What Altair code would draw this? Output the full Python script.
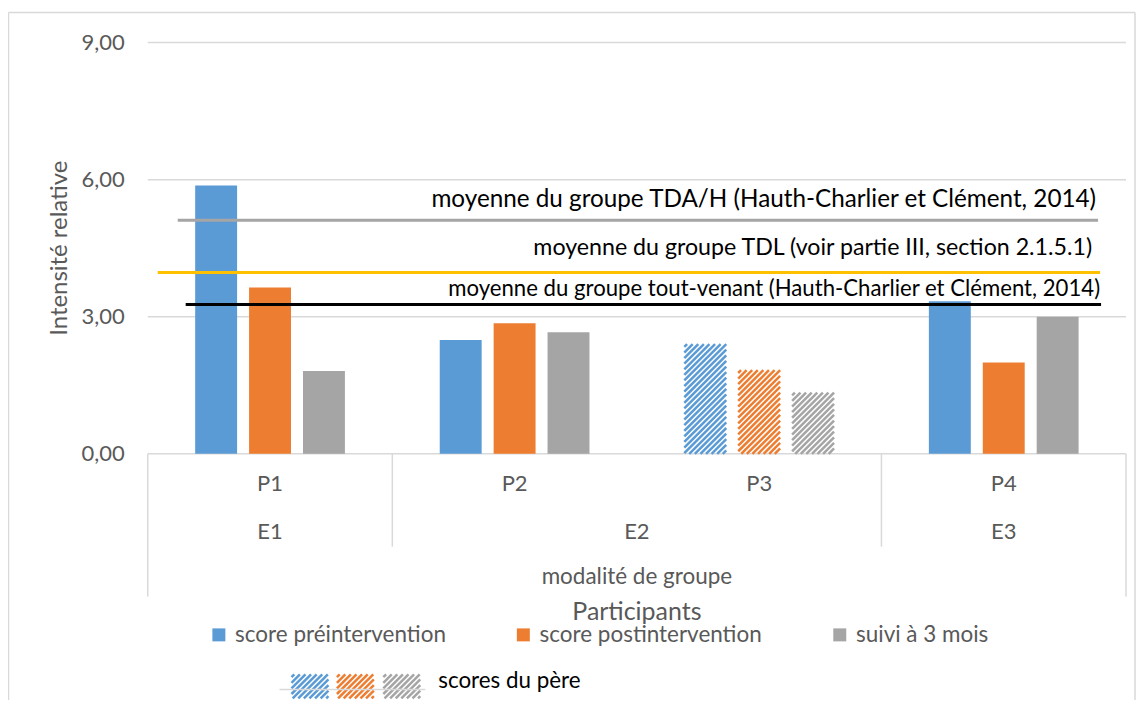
import numpy as np
import pandas as pd
import altair as alt

# ---------------- data ----------------
participants = ["P1", "P2", "P3", "P4"]
modalites = ["E1", "E2", "E2", "E3"]
series = ["score préintervention", "score postintervention", "suivi à 3 mois"]
pre = [5.87, 2.49, 2.40, 3.34]
post = [3.64, 2.86, 1.83, 2.00]
suivi = [1.81, 2.66, 1.34, 3.00]
pere = [False, False, True, False]          # P3 = scores du père (hatched)
series_colors = ["#5b9bd5", "#ed7d31", "#a5a5a5"]

ref_labels = [
    "moyenne du groupe TDA/H (Hauth-Charlier et Clément, 2014)",
    "moyenne du groupe TDL (voir partie III, section 2.1.5.1)",
    "moyenne du groupe tout-venant (Hauth-Charlier et Clément, 2014)",
]
ref_values = [5.11, 3.97, 3.27]
ref_colors = ["#a5a5a5", "#ffc000", "#000000"]
ref_font_sizes = [24.3, 22.2, 22.2]

y_ticks = [0, 3, 6, 9]
y_title = "Intensité relative"

# ---------------- layout ----------------
W, H = 980, 412
X0, Y0 = 148, 42                   # page position of plot origin
XU = W / 4.0                       # px per participant
YU = H / 9.0                       # px per unit
FONT = "Lato"
GREY_TXT = "#595959"
LINE = "#d9d9d9"


def dx(px):
    return (px - X0) / XU


def dy(py):
    return (Y0 + H - py) / YU


BAR_HALF = 21 / XU
BAR_STEP = 54 / XU


def hatch(left, bottom, w, h, period=5.6):
    segs = []
    c = -h + period / 2
    while c < w:
        a = max(0.0, -c)
        b = min(h, w - c)
        if b > a:
            segs.append((left + c + a, bottom - a, left + c + b, bottom - b))
        c += period
    return segs


# bars table
rows = []
hatch_rows = []
for i, p in enumerate(participants):
    for k, (s, vals) in enumerate(zip(series, [pre, post, suivi])):
        c = i + 0.5 + (k - 1) * BAR_STEP
        rows.append(dict(participant=p, serie=s, v=vals[i], x1=c - BAR_HALF,
                         x2=c + BAR_HALF, y0=0.0, pere=pere[i]))
        if pere[i]:
            left = X0 + (c - BAR_HALF) * XU
            for (ax, ay, bx, by) in hatch(left, Y0 + H, 42, vals[i] * YU):
                hatch_rows.append(dict(serie=s, x=dx(ax), y=dy(ay), x2=dx(bx), y2=dy(by)))
bars = pd.DataFrame(rows)

# legend swatches for "scores du père"
sw_left = [292, 337.5, 384]
for s, l in zip(series, sw_left):
    for (ax, ay, bx, by) in hatch(l, 699, 37, 24):
        hatch_rows.append(dict(serie=s, x=dx(ax), y=dy(ay), x2=dx(bx), y2=dy(by)))
hatches = pd.DataFrame(hatch_rows)

color_scale = alt.Scale(domain=series, range=series_colors)
xs = alt.Scale(domain=[0, 4], nice=False, zero=False)
ys = alt.Scale(domain=[0, 9], nice=False, zero=True)

# ---- y axis drawn from the y scale: grid, labels, title
ticks_df = pd.DataFrame({"t": y_ticks, "a": [0] * len(y_ticks), "b": [4] * len(y_ticks)})
grid = alt.Chart(ticks_df).mark_rule(color=LINE, strokeWidth=1.5).encode(
    x=alt.X("a:Q", scale=xs, axis=None), x2="b:Q",
    y=alt.Y("t:Q", scale=ys, axis=None),
)
y_labels = alt.Chart(ticks_df).transform_calculate(
    lab="replace(format(datum.t, '.2f'), '.', ',')"
).mark_text(align="right", baseline="middle", font=FONT, fontSize=22, color=GREY_TXT).encode(
    x=alt.value(125 - X0),
    y=alt.Y("t:Q", scale=ys, axis=None),
    text="lab:N",
)
y_title_mark = alt.Chart(pd.DataFrame({"t": [y_title]})).mark_text(
    angle=270, align="center", baseline="middle", font=FONT, fontSize=24, color=GREY_TXT
).encode(x=alt.value(60 - X0), y=alt.value(248 - Y0), text="t:N")

solid = alt.Chart(bars).transform_filter("!datum.pere").mark_rect().encode(
    x=alt.X("x1:Q", scale=xs, axis=None),
    x2="x2:Q",
    y=alt.Y("v:Q", scale=ys, axis=None),
    y2="y0:Q",
    color=alt.Color("serie:N", scale=color_scale, sort=series, legend=alt.Legend(
        title=None, orient="none", legendX=60, legendY=582, direction="horizontal",
        symbolType="square", symbolSize=169, symbolStrokeWidth=0,
        labelFontSize=22.5, labelFont=FONT, labelColor=GREY_TXT, labelOffset=5,
        columnPadding=66, padding=0, labelLimit=400)),
)

hatch_layer = alt.Chart(hatches).mark_rule(strokeWidth=2.5, strokeCap="butt").encode(
    x=alt.X("x:Q", scale=xs, axis=None), x2="x2:Q",
    y=alt.Y("y:Q", scale=ys, axis=None), y2="y2:Q",
    color=alt.Color("serie:N", scale=color_scale, legend=None),
)

# ---- reference lines
ref_start_px = [178, 158, 186]
ref_end_px = [1100, 1102, 1103]
ref_text_end_px = [1098, 1094, 1102]
ref_text_above_px = [20, 24, 15]
refs = pd.DataFrame({
    "label": ref_labels, "v": ref_values,
    "xa": [dx(p) for p in ref_start_px], "xb": [dx(p) for p in ref_end_px],
    "xt": [dx(p) for p in ref_text_end_px],
    "yt": [v + o / YU for v, o in zip(ref_values, ref_text_above_px)],
})
ref_lines = alt.Chart(refs).mark_rule(strokeWidth=3).encode(
    x=alt.X("xa:Q", scale=xs, axis=None), x2="xb:Q",
    y=alt.Y("v:Q", scale=ys, axis=None),
    stroke=alt.Stroke("label:N", scale=alt.Scale(domain=ref_labels, range=ref_colors), legend=None),
)
ref_text = alt.Chart(refs).mark_text(align="right", baseline="middle", font=FONT,
                                     color="#000000").encode(
    x=alt.X("xt:Q", scale=xs, axis=None),
    y=alt.Y("yt:Q", scale=ys, axis=None),
    text="label:N",
    size=alt.Size("label:N", scale=alt.Scale(domain=ref_labels, range=ref_font_sizes), legend=None),
)

# ---- category axis (two levels)
pdf = pd.DataFrame({"p": participants, "xc": [i + 0.5 for i in range(len(participants))]})
p_labels = alt.Chart(pdf).mark_text(font=FONT, fontSize=22, color=GREY_TXT, baseline="middle").encode(
    x=alt.X("xc:Q", scale=xs, axis=None), y=alt.value(484 - Y0), text="p:N")

groups = []
for m in dict.fromkeys(modalites):
    idx = [i for i, mm in enumerate(modalites) if mm == m]
    groups.append(dict(m=m, xc=(min(idx) + max(idx) + 1) / 2.0))
gdf = pd.DataFrame(groups)
e_labels = alt.Chart(gdf).mark_text(font=FONT, fontSize=22, color=GREY_TXT, baseline="middle").encode(
    x=alt.X("xc:Q", scale=xs, axis=None), y=alt.value(532 - Y0), text="m:N")

bounds = [0] + [i for i in range(1, len(modalites)) if modalites[i] != modalites[i - 1]] + [len(modalites)]
sep = pd.DataFrame({"b": bounds, "outer": [b in (0, len(modalites)) for b in bounds]})
sep_inner = alt.Chart(sep).transform_filter("!datum.outer").mark_rule(color=LINE, strokeWidth=1.5).encode(
    x=alt.X("b:Q", scale=xs, axis=None), y=alt.value(H), y2=alt.value(547 - Y0))
sep_outer = alt.Chart(sep).transform_filter("datum.outer").mark_rule(color=LINE, strokeWidth=1.5).encode(
    x=alt.X("b:Q", scale=xs, axis=None), y=alt.value(H), y2=alt.value(597 - Y0))

mod_title = alt.Chart(pd.DataFrame({"t": ["modalité de groupe"], "x": [2.0]})).mark_text(
    font=FONT, fontSize=22.5, color=GREY_TXT, baseline="middle").encode(
    x=alt.X("x:Q", scale=xs, axis=None), y=alt.value(577 - Y0), text="t:N")
x_title = alt.Chart(pd.DataFrame({"t": ["Participants"], "x": [2.0]})).mark_text(
    font=FONT, fontSize=25, color=GREY_TXT, baseline="middle").encode(
    x=alt.X("x:Q", scale=xs, axis=None), y=alt.value(612 - Y0), text="t:N")

# ---- "scores du père" legend
pere_line = alt.Chart(pd.DataFrame({"a": [dx(280)], "b": [dx(426)], "z": [dy(690)]})).mark_rule(
    color=LINE, strokeWidth=1.5).encode(
    x=alt.X("a:Q", scale=xs, axis=None), x2="b:Q", y=alt.Y("z:Q", scale=ys, axis=None))
pere_text = alt.Chart(pd.DataFrame({"t": ["scores du père"], "x": [dx(439)], "y": [dy(682)]})).mark_text(
    font=FONT, fontSize=22.4, color="#000000", align="left", baseline="middle").encode(
    x=alt.X("x:Q", scale=xs, axis=None), y=alt.Y("y:Q", scale=ys, axis=None), text="t:N")

# ---- outer frame (chart area border)
frame_l = alt.Chart(pd.DataFrame({"k": [0]})).mark_rule(color=LINE, strokeWidth=1.5).encode(
    x=alt.value(8.5 - X0), y=alt.value(12 - Y0), y2=alt.value(H + 260))
frame_t = alt.Chart(pd.DataFrame({"k": [0]})).mark_rule(color=LINE, strokeWidth=1.5).encode(
    x=alt.value(8.5 - X0), x2=alt.value(1137 - X0), y=alt.value(12 - Y0))
frame_r = alt.Chart(pd.DataFrame({"k": [0]})).mark_rule(color=LINE, strokeWidth=1.5).encode(
    x=alt.value(1137 - X0), y=alt.value(12 - Y0), y2=alt.value(H + 260))

chart = alt.layer(
    frame_l, frame_t, frame_r,
    grid, y_labels, y_title_mark, sep_inner, sep_outer,
    solid, hatch_layer, ref_lines, ref_text,
    p_labels, e_labels, mod_title, x_title,
    pere_line, pere_text,
).properties(
    width=W, height=H,
    autosize=alt.AutoSizeParams(type="none"),
    padding={"left": X0 - 8, "top": Y0 - 8, "right": 11, "bottom": 246},
).configure_view(strokeWidth=0)

chart.save("out.html", embed_options={"renderer": "svg", "actions": False})
